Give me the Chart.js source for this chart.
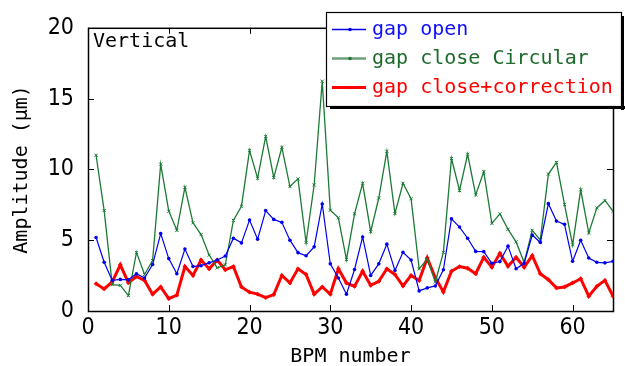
<!DOCTYPE html>
<html><head><meta charset="utf-8">
<script src="https://cdn.jsdelivr.net/npm/chart.js@4.4.1/dist/chart.umd.min.js"></script>
<style>html,body{margin:0;padding:0;background:#fff;overflow:hidden}#wrap{width:625px;height:366px;position:relative}</style>
</head><body><div id="wrap"><canvas id="c" width="625" height="366"></canvas></div>
<script>
const bpm = [1,2,3,4,5,6,7,8,9,10,11,12,13,14,15,16,17,18,19,20,21,22,23,24,25,26,27,28,29,30,31,32,33,34,35,36,37,38,39,40,41,42,43,44,45,46,47,48,49,50,51,52,53,54,55,56,57,58,59,60,61,62,63,64,65];
const gapOpen = [5.19,3.44,2.16,2.23,2.2,2.63,2.33,3.28,5.47,3.7,2.63,4.37,3.14,3.2,3.4,3.6,3.88,5.14,4.81,6.42,5.07,7.09,6.47,6.26,5.0,4.12,3.9,4.53,7.56,3.33,2.33,1.19,2.93,5.23,2.51,3.33,4.72,2.86,4.14,3.6,1.42,1.63,1.77,2.91,6.51,5.93,5.14,4.21,4.19,3.37,3.49,4.58,2.98,3.37,5.37,4.84,7.58,6.35,6.12,3.51,5.0,3.74,3.44,3.4,3.51];
const gapCloseCircular = [11.0,7.09,1.86,1.81,1.09,4.14,2.58,3.56,10.37,7.05,5.7,8.74,6.23,5.4,3.95,3.05,3.26,6.4,7.4,11.35,9.37,12.33,9.42,11.56,8.79,9.33,4.84,8.9,16.23,7.12,6.58,3.63,6.86,9.02,5.6,7.98,11.28,6.88,9.02,7.93,2.98,3.67,2.05,4.14,10.77,8.51,11.07,8.2,9.84,6.19,6.86,5.77,4.88,3.44,5.7,5.02,9.67,10.49,7.51,4.67,8.56,5.51,7.28,7.81,7.05];
const gapCloseCorrection = [1.93,1.56,2.05,3.26,2.0,2.44,2.16,1.19,1.7,0.88,1.12,3.14,2.51,3.6,2.98,3.6,2.91,3.14,1.7,1.33,1.19,0.95,1.16,2.51,1.98,2.98,2.58,1.19,1.7,1.19,2.98,1.98,1.74,2.81,1.81,2.09,2.98,2.58,1.77,2.51,2.16,3.74,2.35,1.35,2.81,3.14,3.02,2.63,3.79,3.09,4.07,3.16,3.79,3.09,3.91,2.63,2.21,1.63,1.7,1.98,2.28,1.05,1.74,2.16,1.05];
const seriesNames = ['gap open','gap close Circular','gap close+correction'];
const xTicks = [0,10,20,30,40,50,60];
const yTicks = [0,5,10,15,20];
const xTitle = 'BPM number';
const yTitle = 'Amplitude (μm)';
const panelLabel = 'Vertical';

// font selection
const mctx = document.createElement('canvas').getContext('2d');
function hasFont(f){
  mctx.font = "30px '" + f + "', monospace";
  const a = mctx.measureText('MWil10abc').width;
  mctx.font = "30px monospace";
  const b = mctx.measureText('MWil10abc').width;
  return Math.abs(a - b) > 0.5;
}
const FAM = "'DejaVu Sans Mono'";
const FS = 20;
let TICKFAM = "'DejaVu Sans Mono'", TICKFS = 20;
if (hasFont('Liberation Sans Narrow')) { TICKFAM = "'Liberation Sans Narrow'"; TICKFS = 26; }
else if (hasFont('DejaVu Sans Condensed')) { TICKFAM = "'DejaVu Sans Condensed'"; TICKFS = 23; }
Chart.defaults.font.family = FAM;
Chart.defaults.color = '#000';

const colors = ['#0000ee', '#1b7a34', '#ff0000'];
const legendText = ['#1010ff', '#1d6b2b', '#ff0000'];
const legendLine = ['#0000ee', '#6f9f7b', '#ff0000'];

function pts(arr){ return bpm.map((b,i)=>({x:b, y:arr[i]})); }

const framePlugin = {
  id: 'frame',
  beforeDatasetsDraw(chart){
    const {ctx, chartArea:a, scales:{x,y}} = chart;
    ctx.save();
    ctx.strokeStyle = '#000';
    ctx.lineWidth = 1;
    const L = 6;
    ctx.beginPath();
    xTicks.forEach(v=>{
      const px = Math.round(x.getPixelForValue(v)) + 0.5;
      ctx.moveTo(px, a.bottom); ctx.lineTo(px, a.bottom - L);
      ctx.moveTo(px, a.top); ctx.lineTo(px, a.top + L);
    });
    yTicks.forEach(v=>{
      const py = Math.round(y.getPixelForValue(v)) + 0.5;
      ctx.moveTo(a.left, py); ctx.lineTo(a.left + L, py);
      ctx.moveTo(a.right, py); ctx.lineTo(a.right - L, py);
    });
    ctx.stroke();
    ctx.lineWidth = 1.5;
    ctx.strokeRect(a.left + 0.5, a.top + 0.5, a.right - a.left, a.bottom - a.top);
    ctx.restore();
  },
  afterDraw(chart){
    const {ctx, chartArea:a} = chart;
    ctx.save();
    ctx.font = FS + 'px ' + FAM;
    ctx.fillStyle = '#000';
    ctx.textBaseline = 'alphabetic';
    ctx.textAlign = 'left';
    ctx.fillText(panelLabel, a.left + 5, 47);
    // legend box
    const bx = 326, by = 12, bw = 295, bh = 94;
    ctx.fillStyle = '#000';
    ctx.fillRect(bx + 4, by + bh, bw, 3);
    ctx.fillRect(bx + bw, by + 4, 3, bh);
    ctx.fillStyle = '#fff';
    ctx.fillRect(bx, by, bw, bh);
    ctx.strokeStyle = '#000';
    ctx.lineWidth = 1.2;
    ctx.strokeRect(bx + 0.5, by + 0.5, bw, bh);
    const rows = [29.5, 58.5, 87.5];
    chart.data.datasets.forEach((ds, i)=>{
      const ry = rows[i];
      ctx.strokeStyle = legendLine[i];
      ctx.lineWidth = i === 2 ? 3 : (i === 1 ? 2.5 : 1.3);
      ctx.beginPath(); ctx.moveTo(332, ry); ctx.lineTo(366, ry); ctx.stroke();
      ctx.fillStyle = colors[i];
      ctx.beginPath(); ctx.arc(350, ry, 1.8, 0, Math.PI*2); ctx.fill();
      ctx.fillStyle = legendText[i];
      ctx.textBaseline = 'middle';
      ctx.fillText(ds.label, 372, ry);
    });
    ctx.restore();
  }
};

new Chart(document.getElementById('c'), {
  type: 'line',
  data: {
    datasets: [
      { label: seriesNames[0], data: pts(gapOpen), borderColor: colors[0], backgroundColor: colors[0],
        borderWidth: 1.2, pointRadius: 1.8, pointStyle: 'circle', pointBorderWidth: 0 },
      { label: seriesNames[1], data: pts(gapCloseCircular), borderColor: colors[1], backgroundColor: colors[1],
        borderWidth: 1.3, pointRadius: 2.2, pointStyle: 'crossRot', pointBorderWidth: 1 },
      { label: seriesNames[2], data: pts(gapCloseCorrection), borderColor: colors[2], backgroundColor: colors[2],
        borderWidth: 3, pointRadius: 2.4, pointStyle: 'rectRot', pointBorderWidth: 0 }
    ]
  },
  options: {
    responsive: false,
    animation: false,
    devicePixelRatio: 1,
    layout: { padding: { top: 25, right: 12, bottom: 0, left: 0 } },
    plugins: { legend: { display: false }, tooltip: { enabled: false } },
    elements: { line: { tension: 0 } },
    scales: {
      x: {
        type: 'linear', min: 0, max: 65,
        grid: { display: false, drawTicks: false },
        border: { display: false },
        ticks: { font: { family: TICKFAM, size: TICKFS }, color: '#000', padding: 3, maxRotation: 0 },
        afterBuildTicks: s => { s.ticks = xTicks.map(v => ({ value: v })); },
        afterFit: s => { s.height = 55; },
        title: { display: true, text: xTitle, font: { size: FS, lineHeight: 1 }, color: '#000', padding: { top: 0, bottom: -1 } }
      },
      y: {
        type: 'linear', min: 0, max: 20,
        grid: { display: false, drawTicks: false },
        border: { display: false },
        ticks: { font: { family: TICKFAM, size: TICKFS }, color: '#000', padding: 14 },
        afterBuildTicks: s => { s.ticks = yTicks.map(v => ({ value: v })); },
        afterFit: s => { s.width = 88; },
        title: { display: true, text: yTitle, font: { size: FS, lineHeight: 1 }, color: '#000', padding: { top: 12, bottom: 0 } }
      }
    }
  },
  plugins: [framePlugin]
});
</script>
</body></html>
